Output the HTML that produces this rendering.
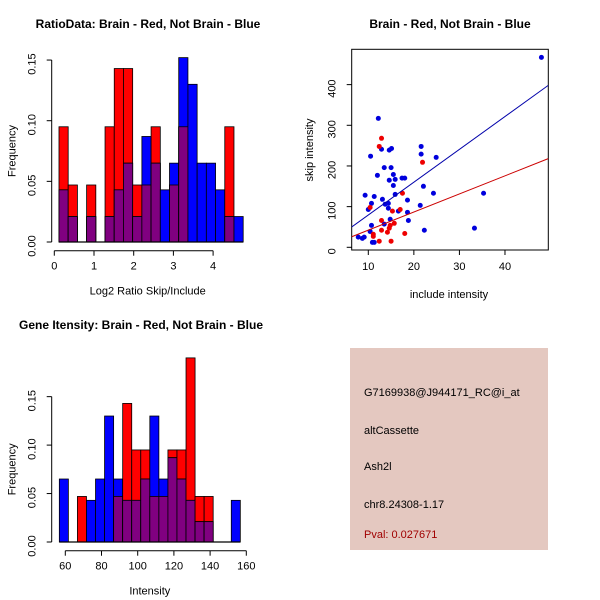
<!DOCTYPE html>
<html><head><meta charset="utf-8"><style>body{margin:0;background:#fff}svg{display:block}text{font-family:"Liberation Sans",sans-serif}</style></head>
<body>
<svg id="s" width="600" height="600" xmlns="http://www.w3.org/2000/svg">
<rect width="600" height="600" fill="#fff"/>
<text x="148" y="28" text-anchor="middle" font-size="12" font-weight="bold">RatioData: Brain - Red, Not Brain - Blue</text>
<text x="450" y="28" text-anchor="middle" font-size="12" font-weight="bold">Brain - Red, Not Brain - Blue</text>
<text x="141" y="329" text-anchor="middle" font-size="12" font-weight="bold">Gene Itensity: Brain - Red, Not Brain - Blue</text>
<rect x="350" y="348" width="198" height="202" fill="#e4c8c0"/>
<g font-size="11">
<text x="364" y="396">G7169938@J944171_RC@i_at</text>
<text x="364" y="434">altCassette</text>
<text x="364" y="470">Ash2l</text>
<text x="364" y="508">chr8.24308-1.17</text>
<text x="364" y="538" fill="#a00000">Pval: 0.027671</text>
</g>
</svg>
<script>
const ratioStart=0.118, ratioWidth=0.232;
const ratioRed=[.095,.047,0,.047,0,.095,.143,.143,.047,.047,.095,0,.047,.095,0,0,0,0,.095,0];
const ratioBlue=[.043,.021,0,.021,0,.021,.043,.065,.021,.087,.065,.043,.065,.152,.130,.065,.065,.043,.021,.021];
const ratioXTicks=[0,1,2,3,4];
const freqTicks=["0.00","0.05","0.10","0.15"];
const intStart=56.7, intWidth=5;
const intRed=[0,0,.047,0,0,0,.047,.143,.095,.095,.047,.047,.095,.095,.190,.047,.047,0,0,0];
const intBlue=[.065,0,0,.043,.065,.130,.065,.043,.043,.065,.130,.065,.087,.065,.043,.021,.021,0,0,.043];
const intXTicks=[60,80,100,120,140,160];
const blueX=[48.0,12.2,10.5,12.9,14.6,15.1,21.6,21.6,24.9,12.0,13.5,15.0,15.5,14.6,15.9,17.4,18.0,15.5,15.9,22.1,24.3,35.3,9.3,11.3,13.1,18.6,10.7,10.0,13.7,14.4,14.4,21.4,16.6,18.6,14.8,18.8,10.7,13.5,10.4,22.3,33.3,7.8,8.7,9.1,10.9,11.3];
const blueY=[467,317,224,241,239,243,248,229,221,177,196,196,179,165,167,170,170,152,130,150,133,133,128,125,118,116,108,93,106,108,96,103,89,86,69,66,54,57,39,42,47,25,22,25,12,12];
const redX=[12.9,12.4,21.9,17.5,10.4,15.3,17.0,12.9,15.7,14.8,14.6,12.9,14.2,18.0,11.1,11.1,12.4,15.0];
const redY=[268,248,209,133,98,89,93,66,59,54,47,42,37,34,32,27,15,15];
const blueFit=[-1.3,8.07], redFit=[-2.3,4.45];
const scXTicks=[10,20,30,40], scYTicks=[0,100,200,300,400];

const S=document.getElementById('s'),NS='http://www.w3.org/2000/svg';
function mk(t,a,p){const e=document.createElementNS(NS,t);for(const k in a)e.setAttribute(k,a[k]);(p||S).appendChild(e);return e;}
function txt(x,y,s,size,rot,anchor){const e=mk('text',{x:x,y:y,'font-size':size,'text-anchor':anchor||'middle'});if(rot)e.setAttribute('transform','rotate(-90 '+x+' '+y+')');e.textContent=s;return e;}

function hist(cfg){
  const X=v=>cfg.x0+(v-cfg.v0)*cfg.xs, Y=v=>cfg.y0-v*cfg.ys;
  for(let i=0;i<cfg.red.length;i++){
    const a=X(cfg.start+i*cfg.w), b=X(cfg.start+(i+1)*cfg.w), r=cfg.red[i], bl=cfg.blue[i], m=Math.min(r,bl);
    if(r>0){const e=mk('rect',{x:a,y:Y(r),width:b-a,height:r*cfg.ys,fill:'#ff0000',stroke:'#000','stroke-width':0.8});
      
      }
    if(bl>0){const e=mk('rect',{x:a,y:Y(bl),width:b-a,height:bl*cfg.ys,fill:'#0000ff',stroke:'#000','stroke-width':0.8});
      
      }
    if(m>0){const e=mk('rect',{x:a,y:Y(m),width:b-a,height:m*cfg.ys,fill:'#800080',stroke:'#000','stroke-width':0.8});
      
      }
  }
  const bx=X(cfg.start), ex=X(cfg.start+cfg.red.length*cfg.w);
  mk('line',{x1:bx,x2:ex,y1:cfg.y0,y2:cfg.y0,stroke:'#000','stroke-width':1.2});
  const ya=mk('g',{});
  
  
  mk('line',{x1:cfg.ax,x2:cfg.ax,y1:Y(0),y2:Y(0.15),stroke:'#000'},ya);
  freqTicks.forEach(t=>{const v=parseFloat(t);mk('line',{x1:cfg.ax-5,x2:cfg.ax,y1:Y(v),y2:Y(v),stroke:'#000'},ya);txt(cfg.ax-16,Y(v)+4,t,11,true);});
  const xa=mk('g',{});
  
  
  const xt=cfg.ticks;
  mk('line',{x1:X(xt[0]),x2:X(xt[xt.length-1]),y1:cfg.ay,y2:cfg.ay,stroke:'#000'},xa);
  xt.forEach(v=>{mk('line',{x1:X(v),x2:X(v),y1:cfg.ay,y2:cfg.ay+5,stroke:'#000'},xa);txt(X(v),cfg.ay+19,String(v),11);});
  txt(cfg.ax-36,(Y(0)+Y(0.15))/2,'Frequency',11,true);
  txt((X(xt[0])+X(xt[xt.length-1]))/2+ (cfg.xlOff||0),cfg.ay+44,cfg.xl,11);
}
hist({name:'ratio',red:ratioRed,blue:ratioBlue,start:ratioStart,w:ratioWidth,x0:54.3,v0:0,xs:39.7,y0:242,ys:1213,ax:51.7,ay:250.7,ticks:ratioXTicks,xl:'Log2 Ratio Skip/Include',xlOff:14});
hist({name:'intensity',red:intRed,blue:intBlue,start:intStart,w:intWidth,x0:65.3,v0:60,xs:1.81,y0:542,ys:969,ax:51.7,ay:550.7,ticks:intXTicks,xl:'Intensity',xlOff:-6});

const SX=v=>368.3+(v-10)*4.556, SY=v=>247.3-v*0.4067;
const L=351.7,R=548.3,T=49.3,B=250;
const box=mk('rect',{x:L,y:T,width:R-L,height:B-T,fill:'none',stroke:'#000'});


const sxa=mk('g',{});


scXTicks.forEach(v=>{mk('line',{x1:SX(v),x2:SX(v),y1:B,y2:B+5,stroke:'#000'},sxa);txt(SX(v),B+20,String(v),11);});
const sya=mk('g',{});


scYTicks.forEach(v=>{mk('line',{x1:L-5,x2:L,y1:SY(v),y2:SY(v),stroke:'#000'},sya);txt(L-16,SY(v)+4,String(v),11,true);});
txt(449,298,'include intensity',11);
txt(313,150,'skip intensity',11,true);
const cp=mk('clipPath',{id:'cp'});mk('rect',{x:L,y:T,width:R-L,height:B-T},cp);
function fit(f,col,name){const x0=6.36,x1=49.5;const e=mk('line',{x1:SX(x0),x2:SX(x1),y1:SY(f[0]+f[1]*x0),y2:SY(f[0]+f[1]*x1),stroke:col,'stroke-width':1,'clip-path':'url(#cp)'});
  
  }
blueX.forEach((x,i)=>{const e=mk('circle',{cx:SX(x),cy:SY(blueY[i]),r:2.5,fill:'#0000dd'});
  
  });
redX.forEach((x,i)=>{const e=mk('circle',{cx:SX(x),cy:SY(redY[i]),r:2.5,fill:'#ee0000'});
  
  });
fit(blueFit,'#0000aa','blue-fit-line');
fit(redFit,'#cc0000','red-fit-line');
</script>
</body></html>
